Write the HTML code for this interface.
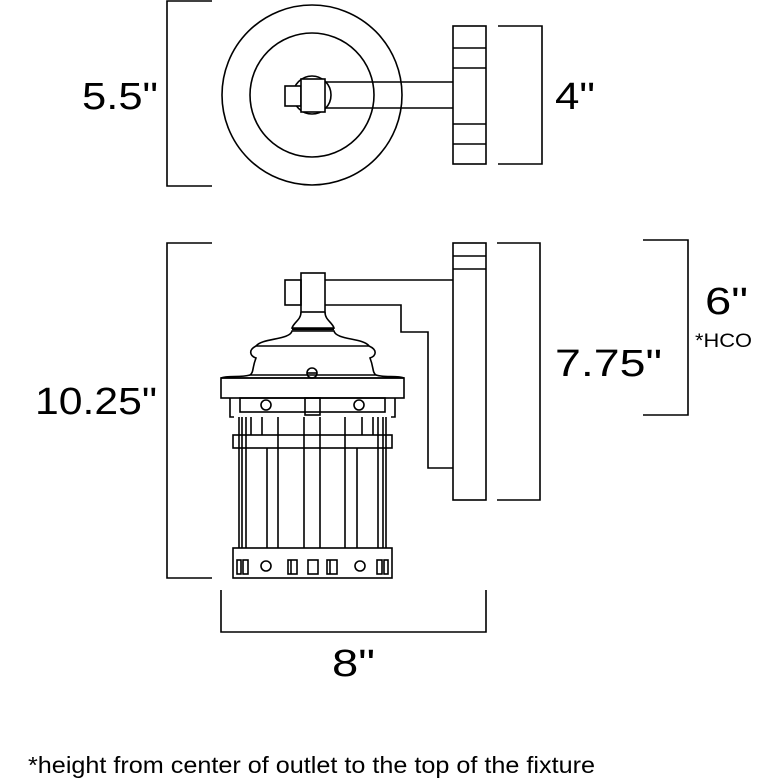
<!DOCTYPE html>
<html><head><meta charset="utf-8"><style>
html,body{margin:0;padding:0;background:#fff}
svg{display:block}
text{font-family:"Liberation Sans",sans-serif;fill:#000}
</style></head><body>
<svg width="780" height="780" viewBox="0 0 780 780" xmlns="http://www.w3.org/2000/svg">
<g fill="none" stroke="#000" stroke-width="1.6">
<!-- top view -->
<polyline points="212,1 167,1 167,186 212,186"/>
<circle cx="312" cy="95" r="90"/>
<circle cx="312" cy="95" r="62"/>
<circle cx="312" cy="95" r="19" fill="#fff"/>
<rect x="285" y="86" width="16" height="20" fill="#fff"/>
<rect x="301" y="79" width="24" height="33" fill="#fff"/>
<line x1="325" y1="82" x2="453" y2="82"/>
<line x1="325" y1="108" x2="453" y2="108"/>
<rect x="453" y="26" width="33" height="138"/>
<line x1="453" y1="48" x2="486" y2="48"/>
<line x1="453" y1="68" x2="486" y2="68"/>
<line x1="453" y1="124" x2="486" y2="124"/>
<line x1="453" y1="144" x2="486" y2="144"/>
<polyline points="498,26 542,26 542,164 498,164"/>

<!-- side view brackets -->
<polyline points="212,243 167,243 167,578 212,578"/>
<polyline points="497,243 540,243 540,500 497,500"/>
<polyline points="643,240 688,240 688,415 643,415"/>
<polyline points="221,590 221,632 486,632 486,590"/>

<!-- wall plate & arm -->
<rect x="453" y="243" width="33" height="257"/>
<line x1="453" y1="256" x2="486" y2="256"/>
<line x1="453" y1="269" x2="486" y2="269"/>
<line x1="325" y1="280" x2="453" y2="280"/>
<polyline points="325,305 401,305 401,332 428,332 428,468 453,468"/>
<rect x="285" y="280" width="16" height="25"/>
<rect x="301" y="273" width="24" height="39"/>
<!-- neck and dome -->
<path d="M301,312 C301,320 294,322 292,328 L334,328 C332,322 325,320 325,312"/>
<line x1="292" y1="329" x2="334" y2="329" stroke-width="2.5"/>
<path d="M292,331 C290,340 262,338 256,346 L369,346 C364,338 336,340 334,331 Z"/>
<path d="M256,346 C248,350 250,356 256,358 C252,368 254,372 250,375 L376,375 C372,372 374,368 370,358 C376,356 378,350 369,346"/>
<path d="M250,375 C240,378 228,375 221,378 L404,378 C397,375 385,378 376,375"/>
<circle cx="312" cy="373" r="5"/>
<line x1="307" y1="373" x2="317" y2="373"/>
<rect x="221" y="378" width="183" height="20"/>
<!-- upper cage -->
<polyline points="230,398 230,417 234,417"/>
<polyline points="395,398 395,417 391,417"/>
<rect x="240" y="398" width="145" height="14"/>
<rect x="305" y="398" width="15" height="17"/>
<circle cx="266" cy="405" r="5"/>
<circle cx="359" cy="405" r="5"/>
<rect x="233" y="435" width="159" height="13"/>
<!-- bars -->
<g>
<line x1="239" y1="417" x2="239" y2="548"/><line x1="242" y1="417" x2="242" y2="548"/>
<line x1="246" y1="417" x2="246" y2="548"/>
<line x1="251" y1="417" x2="251" y2="435"/>
<line x1="262" y1="417" x2="262" y2="435"/>
<line x1="267" y1="448" x2="267" y2="548"/>
<line x1="278" y1="417" x2="278" y2="548"/>
<line x1="304" y1="417" x2="304" y2="548"/>
<line x1="320" y1="417" x2="320" y2="548"/>
<line x1="345" y1="417" x2="345" y2="548"/>
<line x1="357" y1="448" x2="357" y2="548"/>
<line x1="362" y1="417" x2="362" y2="435"/>
<line x1="373" y1="417" x2="373" y2="435"/>
<line x1="378" y1="417" x2="378" y2="548"/>
<line x1="383" y1="417" x2="383" y2="548"/>
<line x1="386" y1="417" x2="386" y2="548"/>
</g>
<!-- bottom band -->
<rect x="233" y="548" width="159" height="30"/>
<rect x="237" y="560" width="4" height="14"/>
<rect x="243" y="560" width="5" height="14"/>
<circle cx="266" cy="566" r="5"/>
<rect x="288" y="560" width="9" height="14"/>
<line x1="291" y1="560" x2="291" y2="574"/>
<rect x="308" y="560" width="10" height="14"/>
<rect x="327" y="560" width="10" height="14"/>
<line x1="330" y1="560" x2="330" y2="574"/>
<circle cx="360" cy="566" r="5"/>
<rect x="377" y="560" width="5" height="14"/>
<rect x="384" y="560" width="4" height="14"/>
</g>
<text x="82" y="109" font-size="38" textLength="76" lengthAdjust="spacingAndGlyphs">5.5"</text>
<text x="555" y="109" font-size="38" textLength="40" lengthAdjust="spacingAndGlyphs">4"</text>
<text x="35" y="414" font-size="38" textLength="122" lengthAdjust="spacingAndGlyphs">10.25"</text>
<text x="555" y="376" font-size="38" textLength="107" lengthAdjust="spacingAndGlyphs">7.75"</text>
<text x="705" y="314" font-size="38" textLength="43" lengthAdjust="spacingAndGlyphs">6"</text>
<text x="695" y="347" font-size="19" textLength="57" lengthAdjust="spacingAndGlyphs">*HCO</text>
<text x="332" y="676" font-size="38" textLength="43" lengthAdjust="spacingAndGlyphs">8"</text>
<text x="28" y="773" font-size="23" textLength="567" lengthAdjust="spacingAndGlyphs">*height from center of outlet to the top of the fixture</text>
</svg>
</body></html>
